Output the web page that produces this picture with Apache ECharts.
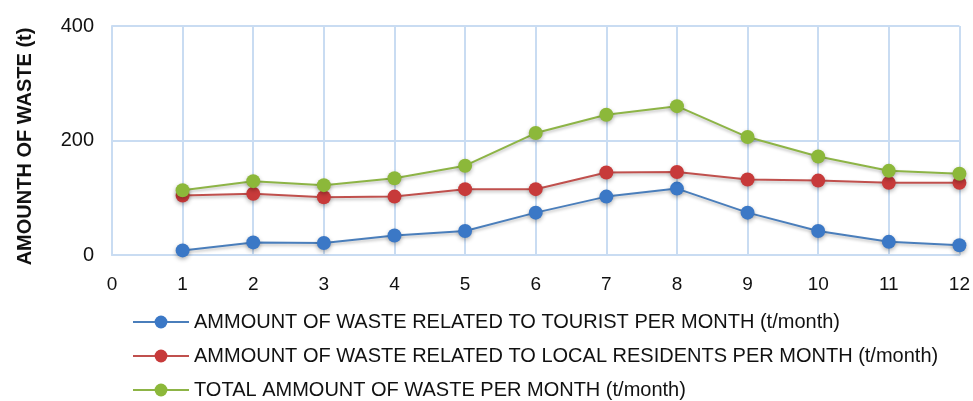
<!DOCTYPE html>
<html>
<head>
<meta charset="utf-8">
<script src="https://cdn.jsdelivr.net/npm/echarts@6/dist/echarts.min.js"></script>
<style>
  html, body { margin: 0; padding: 0; background: #ffffff; }
  #chart { width: 973px; height: 401px; }
</style>
</head>
<body>
<div id="chart"></div>
<script>
var months = [1, 2, 3, 4, 5, 6, 7, 8, 9, 10, 11, 12];
var tourist = [8, 22, 21, 34, 42, 74, 102, 116, 74, 42, 23, 17];
var residents = [104, 107, 101, 102, 115, 115, 144, 145, 132, 130, 126, 126];
var total = [113, 129, 122, 134, 156, 213, 245, 260, 206, 172, 147, 142];
var seriesNames = [
  "AMMOUNT OF WASTE RELATED TO TOURIST PER MONTH (t/month)",
  "AMMOUNT OF WASTE RELATED TO LOCAL RESIDENTS PER MONTH (t/month)",
  "TOTAL AMMOUNT OF WASTE PER MONTH (t/month)"
];

(function () {
  var narrow = "'Liberation Sans Narrow', 'Arial Narrow', 'Liberation Sans', sans-serif";
  var gridColor = "#c9dcf2";
  var lineColors = ["#4a7ebb", "#c0504d", "#8db446"];
  var markerColors = ["#3b78c6", "#c73a3a", "#8cb83a"];

  function pairs(values) {
    return months.map(function (m, i) {
      return [m, values[i]];
    });
  }

  function buildSeries(name, values, idx) {
    return {
      name: name,
      type: "line",
      data: pairs(values),
      symbol: "circle",
      symbolSize: 14,
      lineStyle: {
        width: 2,
        color: lineColors[idx],
        shadowColor: "rgba(0,0,0,0.25)",
        shadowBlur: 3,
        shadowOffsetY: 2
      },
      itemStyle: {
        color: markerColors[idx],
        shadowColor: "rgba(0,0,0,0.3)",
        shadowBlur: 4,
        shadowOffsetY: 2
      },
      animation: false
    };
  }

  var chart = echarts.init(document.getElementById("chart"), null, { renderer: "canvas" });
  chart.setOption({
    backgroundColor: "#ffffff",
    textStyle: { fontFamily: narrow },
    grid: { left: 112, right: 11, top: 26, bottom: 146 },
    legend: {
      orient: "vertical",
      left: 132,
      top: 312,
      padding: 0,
      itemWidth: 56,
      itemHeight: 16,
      itemGap: 14,
      textStyle: { fontFamily: narrow, fontSize: 20, color: "#111111" },
      data: seriesNames
    },
    xAxis: {
      type: "value",
      min: 0,
      max: 12,
      interval: 1,
      axisLine: { lineStyle: { color: gridColor, width: 2 } },
      axisTick: { show: false },
      axisLabel: { color: "#111111", fontSize: 19, fontFamily: narrow, margin: 20 },
      splitLine: { show: true, lineStyle: { color: gridColor, width: 2 } }
    },
    yAxis: {
      type: "value",
      min: 0,
      max: 400,
      interval: 200,
      name: "AMOUNTH OF WASTE (t)",
      nameLocation: "middle",
      nameGap: 77,
      nameTextStyle: {
        fontFamily: "'Liberation Sans', Arial, sans-serif",
        fontWeight: "bold",
        fontSize: 20,
        color: "#111111",
        padding: [0, 12, 0, 0]
      },
      axisLine: { show: true, lineStyle: { color: gridColor, width: 2 } },
      axisTick: { show: false },
      axisLabel: { color: "#111111", fontSize: 20, fontFamily: narrow, margin: 18 },
      splitLine: { show: true, lineStyle: { color: gridColor, width: 2 } }
    },
    series: [
      buildSeries(seriesNames[0], tourist, 0),
      buildSeries(seriesNames[1], residents, 1),
      buildSeries(seriesNames[2], total, 2)
    ]
  });
})();
</script>
</body>
</html>
